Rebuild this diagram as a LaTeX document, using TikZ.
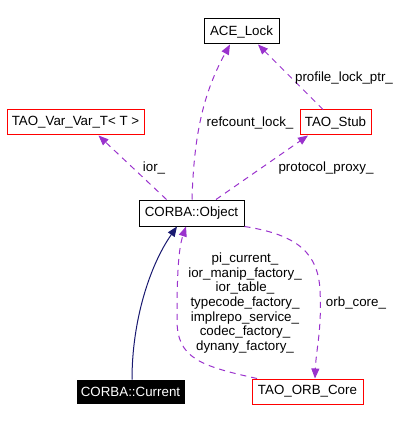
\documentclass[tikz,border=0pt]{standalone}
\usepackage{fontspec}
\setmainfont{Liberation Sans}
\usetikzlibrary{arrows.meta,calc}
\definecolor{orchid}{RGB}{154,50,205}
\definecolor{midnight}{RGB}{25,25,112}
\tikzset{
    cls/.style={draw=black, fill=white, line width=1pt, minimum height=25, inner sep=0pt},
    redcls/.style={cls, draw=red},
    curcls/.style={cls, fill=black, text=white},
    lbl/.style={inner sep=0pt, align=center},
    member/.style={orchid, line width=1pt, dash pattern=on 6pt off 5pt, -{Triangle[length=10pt,width=8pt]}},
    inherit/.style={midnight, line width=1pt, -{Triangle[length=10pt,width=8pt]}},
}
\begin{document}
\begin{tikzpicture}[x=1pt, y=-1pt, font=\fontsize{13.33}{14.6}\selectfont]
    \useasboundingbox (0,0) rectangle (419,422);
    \node[cls, minimum width=75] (lock) at (241.5,31.5) {ACE\_Lock};
    \node[redcls, minimum width=137] (var) at (75.5,122.5) {TAO\_Var\_Var\_T< T >};
    \node[redcls, minimum width=71] (stub) at (335.5,122.5) {TAO\_Stub};
    \node[cls, minimum width=105, minimum height=26] (obj) at (191.5,213) {CORBA::Object};
    \node[curcls, minimum width=107, minimum height=23] (cur) at (130.5,391.5) {CORBA::Current};
    \node[redcls, minimum width=111] (core) at (307.5,391.5) {TAO\_ORB\_Core};

    \draw[member] ($(stub.north)+(-12.5,0)$) -- ($(lock.south)+(16.5,0)$);
    \draw[member] ($(obj.north)+(0.5,0)$) .. controls (194,130) and (205,90) .. ($(lock.south)+(-11.5,0)$);
    \draw[member] ($(obj.north)+(-25,0)$) -- ($(var.south)+(23,0)$);
    \draw[member] ($(obj.north)+(24.5,0)$) -- ($(stub.south)+(-27.5,0)$);
    \draw[inherit] ($(cur.north)+(1.5,0)$) .. controls (132,320) and (150,265) .. ($(obj.south)+(-14.5,0)$);
    \draw[member] ($(core.north)+(-50.5,0)$) .. controls (200,366) and (177,358) .. (177,320)
        .. controls (177,280) and (178,250) .. ($(obj.south)+(-5.5,0)$);
    \draw[member] (obj.south east) .. controls (300,235) and (318,255) .. (320,290)
        .. controls (322,330) and (316,350) .. ($(core.north)+(7.5,0)$);

    \node[lbl] (lprofile) at (344,78) {profile\_lock\_ptr\_};
    \node[lbl] (lrefcount) at (250,123) {refcount\_lock\_};
    \node[lbl] (lior) at (154,168) {ior\_};
    \node[lbl] (lproxy) at (326,168) {protocol\_proxy\_};
    \node[lbl] (lmembers) at (245,303) {pi\_current\_\\ior\_manip\_factory\_\\ior\_table\_\\typecode\_factory\_\\implrepo\_service\_\\codec\_factory\_\\dynany\_factory\_};
    \node[lbl] (lcore) at (356,303) {orb\_core\_};
\end{tikzpicture}
\end{document}
